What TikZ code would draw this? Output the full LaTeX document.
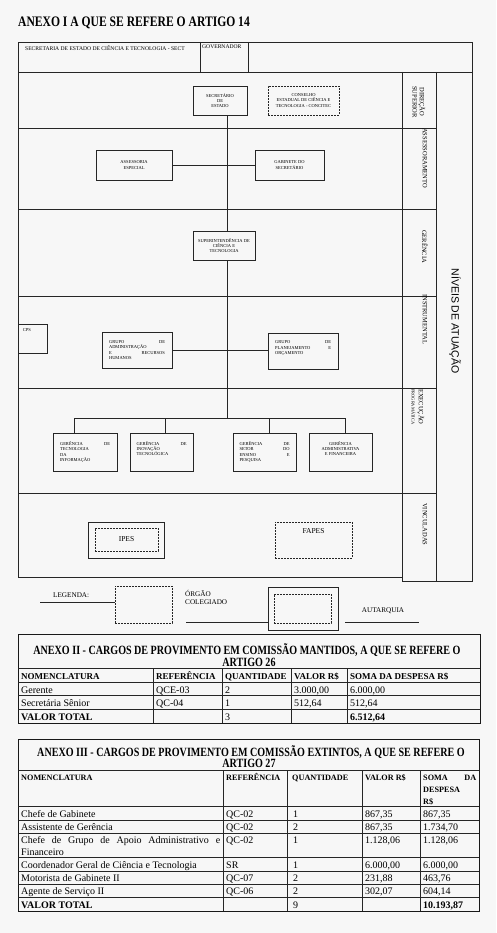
\documentclass[tikz,border=0pt]{standalone}
\usepackage{fontspec}
\setmainfont{Liberation Serif}
\newfontfamily\nivfont{Liberation Sans}
\newfontfamily\condfont[FakeStretch=0.8]{Liberation Serif}
\newcommand\orgf{\fontsize{4.5}{5.3}\selectfont}
\newcommand\hdrf{\fontsize{5.6}{6.5}\selectfont}
\newcommand\lvlf{\fontsize{6.5}{7.2}\selectfont}
\newcommand\legf{\fontsize{7.2}{8.4}\selectfont}
\newcommand\cellf{\fontsize{10}{12}\selectfont}
\newcommand\cellbf{\bfseries\fontsize{9}{11}\selectfont}
\newcommand\cellbbf{\bfseries\fontsize{8.2}{10}\selectfont}
\newcommand\tottf{\bfseries\fontsize{10}{12}\selectfont}
\begin{document}
\begin{tikzpicture}[x=1pt,y=-1pt,
  ln/.style={line width=0.6pt, draw=black!85},
  thick ln/.style={line width=1pt, draw=black!90},
  orgbox/.style={ln, rectangle, inner sep=1pt, font=\orgf, align=center},
  dashbox/.style={orgbox, dash pattern=on 1.6pt off 1.4pt},
  lvl/.style={rotate=-90, font=\lvlf, align=center, inner sep=0pt, anchor=west},
  cellt/.style={anchor=base west, inner sep=0pt, font=\cellf},
  cellb/.style={cellt, font=\cellbf},
  cellbb/.style={cellt, font=\cellbbf},
  celltot/.style={cellt, font=\tottf},
  tt/.style={anchor=base, inner sep=0pt, font=\condfont\bfseries\fontsize{12.6}{14}\selectfont},
]
\fill[black!3] (0,0) rectangle (496,933);
\useasboundingbox (0,0) rectangle (496,933);

% ---------- ANEXO I ----------
\node[anchor=base west, inner sep=0pt, font=\condfont\bfseries\fontsize{14.5}{16}\selectfont] (title) at (18,27) {ANEXO I A QUE SE REFERE O ARTIGO 14};

% header row
\draw[ln] (18,42) rectangle (472,72);
\draw[ln] (200,42) -- (200,72);
\draw[ln] (248,42) -- (248,72);
\node[anchor=north west, inner sep=0pt, font=\hdrf] (hsect) at (25,45) {SECRETARIA DE ESTADO DE CIÊNCIA E TECNOLOGIA - SECT};
\node[anchor=north west, inner sep=0pt, font=\hdrf] (hgov) at (202,45) {GOVERNADOR};

% main frame
\draw[ln] (18,72) -- (18,577) -- (402,577);
\draw[ln] (402,72) -- (402,581) -- (472,581) -- (472,72);
\draw[ln] (436,72) -- (436,581);
\foreach \yy in {128,209,296,388,493} \draw[ln] (18,\yy) -- (436,\yy);

% level labels
\node[lvl] (lv1) at (419,86) {DIREÇÃO\\SUPERIOR};
\node[lvl] (lv2) at (425,128) {ASSESSORAMENTO};
\node[lvl] (lv3) at (425,230) {GERÊNCIA};
\node[lvl] (lv4) at (425,294) {INSTRUMENTAL};
\node[lvl] (lv5) at (418,389) {EXECUÇÃO\\{\fontsize{4.4}{5}\selectfont PROGRAMÁTICA}};
\node[lvl] (lv6) at (425,503) {VINCULADAS};
\node[rotate=-90, inner sep=0pt, font=\nivfont\fontsize{10.5}{12}\selectfont] (niv) at (455,321) {NÍVEIS DE ATUAÇÃO};

% org nodes
\node[orgbox, minimum width=54pt, minimum height=29pt] (sec) at (220,100.5) {SECRETÁRIO\\DE\\ESTADO};
\node[dashbox, minimum width=71pt, minimum height=29pt] (cons) at (303.5,100.5) {CONSELHO\\ESTADUAL DE CIÊNCIA E\\TECNOLOGIA - CONCITEC};
\node[orgbox, minimum width=76pt, minimum height=30pt] (assess) at (134,165) {ASSESSORIA\\ESPECIAL};
\node[orgbox, minimum width=69pt, minimum height=30pt] (gab) at (289.5,165) {GABINETE DO\\SECRETÁRIO};
\node[orgbox, minimum width=62pt, minimum height=29pt] (sup) at (224,245.5) {SUPERINTENDÊNCIA DE\\CIÊNCIA E\\TECNOLOGIA};
\node[orgbox, minimum width=29pt, minimum height=29pt] (cps) at (32.5,338.5) {};
\node[font=\orgf, anchor=north west, inner sep=0pt] (cpst) at ([shift={(5pt,-5pt)}]cps.north west) {CPS};
\node[orgbox, minimum width=70pt, minimum height=36pt, text width=56pt, align=left] (gar) at (137,350) {GRUPO\hfill DE\\ADMINISTRAÇÃO\\E\hfill RECURSOS\\HUMANOS};
\node[orgbox, minimum width=70pt, minimum height=36pt, text width=56pt, align=left] (gpo) at (303,351) {GRUPO\hfill DE\\PLANEJAMENTO\hfill E\\ORÇAMENTO\\\strut};
\node[orgbox, minimum width=64pt, minimum height=38pt, text width=50pt, align=left] (g1) at (85,452) {GERÊNCIA\hfill DE\\TECNOLOGIA\\DA\\INFORMAÇÃO};
\node[orgbox, minimum width=63pt, minimum height=38pt, text width=50pt, align=left] (g2) at (161.5,452) {GERÊNCIA\hfill DE\\INOVAÇÃO\\TECNOLÓGICA\\\strut};
\node[orgbox, minimum width=63pt, minimum height=38pt, text width=50pt, align=left] (g3) at (264.5,452) {GERÊNCIA\hfill DE\\SETOR\hfill DO\\ENSINO\hfill E\\PESQUISA};
\node[orgbox, minimum width=63pt, minimum height=38pt] (g4) at (340.5,452) {GERÊNCIA\\ADMINISTRATIVA\\E FINANCEIRA\\\strut};

% connectors
\coordinate (sp) at (227,0);
\coordinate (busL) at (74,418);
\coordinate (busR) at (345,418);
\coordinate (d2) at (165,418);
\coordinate (d3) at (269,418);
\draw[ln] (sec.south -| sp) -- (sup.north -| sp);
\draw[ln] (sup.south -| sp) -- (sp |- busL);
\draw[ln] (assess.east) -- (assess.east -| gab.west);
\draw[ln] (gar.east) -- (gar.east -| gpo.west);
\draw[ln] (busL) -- (busR);
\draw[ln] (busL) -- (busL |- g1.north);
\draw[ln] (d2) -- (d2 |- g2.north);
\draw[ln] (d3) -- (d3 |- g3.north);
\draw[ln] (busR) -- (busR |- g4.north);

% vinculadas
\node[orgbox, minimum width=76pt, minimum height=36pt] (ipeso) at (126,540) {};
\node[dashbox, minimum width=63pt, minimum height=23pt, font=\fontsize{7.5}{8.5}\selectfont] (ipes) at (126.5,539.5) {IPES};
\node[dashbox, minimum width=77pt, minimum height=36pt] (fapes) at (313.5,540) {};
\node[inner sep=0pt, font=\fontsize{7.5}{8.5}\selectfont] (fapest) at (313.5,531) {FAPES};

% legend
\node[font=\legf, anchor=base west, inner sep=0pt] (legt) at (53,597) {LEGENDA:};
\coordinate (legl) at (40,602);
\node[dashbox, minimum width=57pt, minimum height=37pt] (legc) at (143.5,604.5) {};
\draw[ln] (legl) -- (legl -| legc.west);
\node[font=\legf, anchor=north west, align=left, inner sep=0pt] (legct) at (185,590) {ÓRGÃO\\COLEGIADO};
\node[orgbox, minimum width=70pt, minimum height=43pt] (lega) at (303,608.5) {};
\node[dashbox, minimum width=57pt, minimum height=29pt] (legai) at (302.5,608.5) {};
\coordinate (legm) at (186,622);
\draw[ln] (legm) -- (legm -| lega.west);
\node[font=\legf, inner sep=0pt] (legat) at (383,611) {AUTARQUIA};
\coordinate (legr1) at (345,622);
\coordinate (legr2) at (419,622);
\draw[ln] (legr1) -- (legr2);

% ---------- ANEXO II ----------
\draw[thick ln] (18,634) rectangle (480,723);
\foreach \yy in {668,682,695.5,709} \draw[ln] (18,\yy) -- (480,\yy);
\foreach \xx in {153,222,291,347} \draw[ln] (\xx,668) -- (\xx,723);
\node[tt] (t2a) at (247,654.5) {ANEXO II - CARGOS DE PROVIMENTO EM COMISSÃO MANTIDOS, A QUE SE REFERE O};
\node[tt] (t2b) at (249,666.5) {ARTIGO 26};
\node[cellb] (t2h1) at (21,679.5) {NOMENCLATURA};
\node[cellb] (t2h2) at (156,679.5) {REFERÊNCIA};
\node[cellb] (t2h3) at (225,679.5) {QUANTIDADE};
\node[cellb] (t2h4) at (294,679.5) {VALOR R\$};
\node[cellb] (t2h5) at (350,679.5) {SOMA DA DESPESA R\$};
\node[cellt] (t2r1a) at (21,693) {Gerente};
\node[cellt] (t2r1b) at (156,693) {QCE-03};
\node[cellt] (t2r1c) at (225,693) {2};
\node[cellt] (t2r1d) at (294,693) {3.000,00};
\node[cellt] (t2r1e) at (350,693) {6.000,00};
\node[cellt] (t2r2a) at (21,706.5) {Secretária Sênior};
\node[cellt] (t2r2b) at (156,706.5) {QC-04};
\node[cellt] (t2r2c) at (225,706.5) {1};
\node[cellt] (t2r2d) at (294,706.5) {512,64};
\node[cellt] (t2r2e) at (350,706.5) {512,64};
\node[celltot] (t2r3a) at (21,720.5) {VALOR TOTAL};
\node[cellt] (t2r3c) at (225,720.5) {3};
\node[celltot] (t2r3e) at (350,720.5) {6.512,64};

% ---------- ANEXO III ----------
\draw[thick ln] (18,739) rectangle (479,911);
\foreach \yy in {770,806,820,833,857,871,884,897} \draw[ln] (18,\yy) -- (479,\yy);
\foreach \xx in {223,287,362,420} \draw[ln] (\xx,770) -- (\xx,911);
\node[tt] (t3a) at (251,756) {ANEXO III - CARGOS DE PROVIMENTO EM COMISSÃO EXTINTOS, A QUE SE REFERE O};
\node[tt] (t3b) at (249,767.5) {ARTIGO 27};
\node[cellbb] (t3h1) at (21,780.5) {NOMENCLATURA};
\node[cellbb] (t3h2) at (226,780.5) {REFERÊNCIA};
\node[cellbb] (t3h3) at (292,780.5) {QUANTIDADE};
\node[cellbb] (t3h4) at (365,780.5) {VALOR R\$};
\node[cellbb] (t3h5a) at (423,780.5) {\makebox[53pt][l]{SOMA\hfill DA}};
\node[cellbb] (t3h5b) at (423,792.5) {DESPESA};
\node[cellbb] (t3h5c) at (423,804.5) {R\$};

\node[cellt] (t3r1a) at (21,817) {Chefe de Gabinete};
\node[cellt] (t3r1b) at (226,817) {QC-02};
\node[cellt] (t3r1c) at (293,817) {1};
\node[cellt] (t3r1d) at (365,817) {867,35};
\node[cellt] (t3r1e) at (423,817) {867,35};

\node[cellt] (t3r2a) at (21,830.5) {Assistente de Gerência};
\node[cellt] (t3r2b) at (226,830.5) {QC-02};
\node[cellt] (t3r2c) at (293,830.5) {2};
\node[cellt] (t3r2d) at (365,830.5) {867,35};
\node[cellt] (t3r2e) at (423,830.5) {1.734,70};

\node[cellt] (t3r3a) at (21,843.5) {\makebox[199pt][s]{Chefe de Grupo de Apoio Administrativo e}};
\node[cellt] (t3r3a2) at (21,855) {Financeiro};
\node[cellt] (t3r3b) at (226,843.5) {QC-02};
\node[cellt] (t3r3c) at (293,843.5) {1};
\node[cellt] (t3r3d) at (365,843.5) {1.128,06};
\node[cellt] (t3r3e) at (423,843.5) {1.128,06};

\node[cellt] (t3r4a) at (21,868) {Coordenador Geral de Ciência e Tecnologia};
\node[cellt] (t3r4b) at (226,868) {SR};
\node[cellt] (t3r4c) at (293,868) {1};
\node[cellt] (t3r4d) at (365,868) {6.000,00};
\node[cellt] (t3r4e) at (423,868) {6.000,00};

\node[cellt] (t3r5a) at (21,881) {Motorista de Gabinete II};
\node[cellt] (t3r5b) at (226,881) {QC-07};
\node[cellt] (t3r5c) at (293,881) {2};
\node[cellt] (t3r5d) at (365,881) {231,88};
\node[cellt] (t3r5e) at (423,881) {463,76};

\node[cellt] (t3r6a) at (21,894) {Agente de Serviço II};
\node[cellt] (t3r6b) at (226,894) {QC-06};
\node[cellt] (t3r6c) at (293,894) {2};
\node[cellt] (t3r6d) at (365,894) {302,07};
\node[cellt] (t3r6e) at (423,894) {604,14};

\node[celltot] (t3r7a) at (21,908) {VALOR TOTAL};
\node[cellt] (t3r7c) at (293,908) {9};
\node[celltot] (t3r7e) at (423,908) {10.193,87};
\end{tikzpicture}
\end{document}
